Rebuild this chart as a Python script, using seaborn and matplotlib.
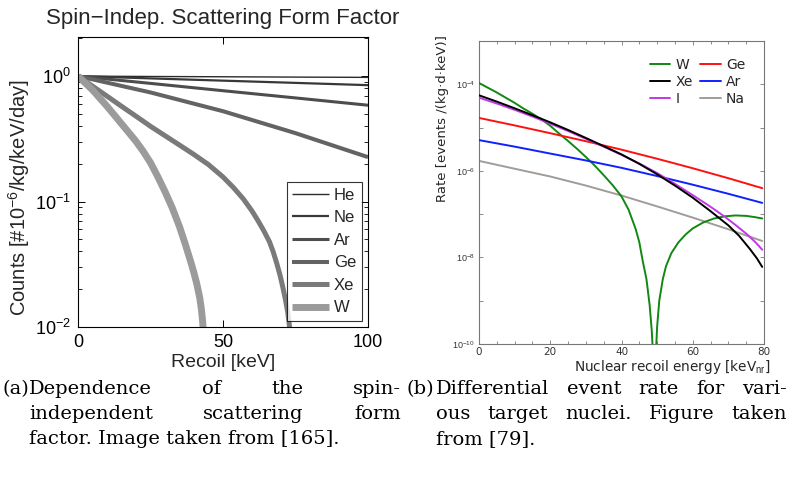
import numpy as np
import pandas as pd
import matplotlib
matplotlib.use("Agg")
import matplotlib.pyplot as plt
import seaborn as sns
from matplotlib.ticker import FuncFormatter, MultipleLocator, NullLocator, FixedLocator

# ---------------- data: panel (a) form factors ----------------
ff_targets = ["He", "Ne", "Ar", "Ge", "Xe", "W"]
light_x = [0, 25, 50, 75, 100]
he_y = [1.0, 0.993, 0.988, 0.982, 0.977]
ne_y = [1.0, 0.959, 0.920, 0.883, 0.847]
ar_y = [1.0, 0.875, 0.765, 0.670, 0.586]
ge_y = [1.0, 0.741, 0.525, 0.351, 0.226]
xe_x = [0, 5, 10, 15, 20, 25, 30, 35, 40, 45, 50, 53.5, 57, 60, 62, 64, 66, 67.3,
        68.5, 69.7, 70.7, 71.6, 72.3, 72.8, 73.2, 73.6]
xe_y = [1.0, 0.832, 0.692, 0.575, 0.479, 0.398, 0.335, 0.282, 0.237, 0.197,
        0.157, 0.130, 0.105, 0.0841, 0.0708, 0.0589, 0.0479, 0.0398, 0.0324,
        0.0257, 0.0204, 0.0162, 0.0132, 0.0107, 0.0087, 0.0063]
w_x = [0, 2.5, 5, 7.5, 10, 12.5, 15, 17.5, 20, 22.5, 25, 27.5, 30, 32.5, 35, 37,
       39, 40, 41, 42, 42.5, 43, 43.4]
w_y = [1.0, 0.881, 0.776, 0.668, 0.575, 0.490, 0.417, 0.355, 0.302, 0.251, 0.204,
       0.158, 0.120, 0.0891, 0.0631, 0.0457, 0.0324, 0.0269, 0.0219, 0.0170,
       0.0141, 0.0110, 0.0076]

# ---------------- data: panel (b) differential rates ----------------
rate_x = [0, 10, 20, 30, 40, 50, 60, 70, 79.5]
ge_rate = [1.671e-5, 1.122e-5, 7.41e-6, 4.84e-6, 3.09e-6, 1.905e-6, 1.148e-6, 6.76e-7, 3.98e-7]
ar_rate = [5.13e-6, 3.63e-6, 2.51e-6, 1.74e-6, 1.175e-6, 7.59e-7, 4.79e-7, 2.95e-7, 1.82e-7]
na_rate = [1.70e-6, 1.12e-6, 7.41e-7, 4.57e-7, 2.69e-7, 1.51e-7, 8.32e-8, 4.47e-8, 2.40e-8]
xe_rx = [0, 5, 10, 15, 20, 25, 30, 35, 40, 45, 50, 55, 60, 65, 70, 73, 76, 78, 79.5]
xe_rate = [5.57e-5, 3.98e-5, 2.79e-5, 1.93e-5, 1.32e-5, 8.81e-6, 5.75e-6, 3.72e-6,
           2.40e-6, 1.45e-6, 8.32e-7, 4.57e-7, 2.40e-7, 1.17e-7, 5.50e-8, 3.16e-8,
           1.58e-8, 9.55e-9, 6.03e-9]
i_rx = [0, 5, 10, 15, 20, 25, 30, 35, 40, 45, 50, 55, 60, 65, 69, 72, 75, 77.5, 79.5]
i_rate = [4.90e-5, 3.59e-5, 2.57e-5, 1.80e-5, 1.23e-5, 8.32e-6, 5.50e-6, 3.63e-6,
          2.34e-6, 1.48e-6, 8.91e-7, 5.01e-7, 2.75e-7, 1.48e-7, 8.71e-8, 5.62e-8,
          3.55e-8, 2.29e-8, 1.51e-8]
w_rx = [0, 2.5, 5, 7.5, 10, 12.5, 15, 17.5, 20, 22.5, 25, 27.5, 30, 32.5, 35, 37.5,
        40, 42, 44, 45, 46, 47, 47.9, 48.5, 49.0, 49.25, 49.5, 50.0, 50.6, 51.6,
        52.5, 54, 56, 58, 60, 63, 66, 69, 72, 75, 77.5, 79.5]
w_rate = [1.07e-4, 8.32e-5, 6.46e-5, 4.90e-5, 3.72e-5, 2.75e-5, 2.09e-5, 1.55e-5,
          1.10e-5, 7.24e-6, 4.90e-6, 3.24e-6, 2.09e-6, 1.32e-6, 7.94e-7, 4.68e-7,
          2.57e-7, 1.26e-7, 4.47e-8, 2.24e-8, 7.94e-9, 3.16e-9, 7.94e-10, 2.00e-10,
          3.16e-11, 1e-12, 3.16e-11, 2.51e-10, 1.0e-9, 3.16e-9, 6.31e-9, 1.26e-8,
          2.24e-8, 3.39e-8, 4.68e-8, 6.46e-8, 7.94e-8, 8.91e-8, 9.33e-8, 9.12e-8,
          8.51e-8, 7.94e-8]

# ---------------- captions ----------------
cap_a = [["Dependence", "of", "the", "spin-"],
         ["independent", "scattering", "form"],
         ["factor. Image taken from [165]."]]
cap_b = [["Differential", "event", "rate", "for", "vari-"],
         ["ous", "target", "nuclei.", "Figure", "taken"],
         ["from [79]."]]

# ---------------- figure ----------------
sns.set_theme(style="ticks")
plt.rcParams["font.family"] = ["Liberation Sans", "DejaVu Sans"]
plt.rcParams["mathtext.fontset"] = "custom"
plt.rcParams["mathtext.rm"] = "Liberation Sans"
plt.rcParams["mathtext.it"] = "Liberation Sans:italic"

W_PX, H_PX = 794.0, 479.0
fig = plt.figure(figsize=(7.94, 4.79), dpi=100)
axL = fig.add_axes([78 / W_PX, 1 - 327 / H_PX, 290 / W_PX, 290 / H_PX])
axR = fig.add_axes([479 / W_PX, 1 - 344 / H_PX, 285 / W_PX, 303 / H_PX])

# ----- panel (a)
ff_series = {
    "He": (light_x, he_y, "#2b2b2b", 1.0),
    "Ne": (light_x, ne_y, "#383838", 1.6),
    "Ar": (light_x, ar_y, "#4d4d4d", 2.2),
    "Ge": (light_x, ge_y, "#636363", 2.9),
    "Xe": (xe_x, xe_y, "#7a7a7a", 3.6),
    "W": (w_x, w_y, "#9b9b9b", 5.0),
}
for name in ff_targets:
    xs, ys, col, lw = ff_series[name]
    sns.lineplot(x=xs, y=ys, ax=axL, color=col, linewidth=lw, label=name,
                 estimator=None, solid_capstyle="butt")
axL.set_yscale("log")
axL.set_xlim(0, 100)
axL.set_ylim(0.01, 2.05)
axL.set_xticks([0, 50, 100])
axL.tick_params(which="both", direction="in", top=True, right=True,
                labelsize=13, color="black", labelcolor="black", pad=5)
axL.tick_params(which="major", length=5, width=0.7)
axL.tick_params(which="minor", length=3, width=0.6)
for s in axL.spines.values():
    s.set_color("black"); s.set_linewidth(0.8)
axL.set_title("Spin\u2212Indep. Scattering Form Factor", fontsize=16, pad=9)
axL.set_xlabel("Recoil [keV]", fontsize=14, labelpad=2)
axL.set_ylabel("Counts [#10$^{-6}$/kg/keV/day]", fontsize=14.5)
axL.yaxis.set_label_coords(-0.158, 0.445)
legL = axL.legend(loc="lower right", frameon=True, fancybox=False, fontsize=12,
                  handlelength=2.2, handletextpad=0.3, labelspacing=0.45,
                  borderaxespad=0.35, borderpad=0.35)
legL.get_frame().set_edgecolor("black")
legL.get_frame().set_linewidth(0.8)

# ----- panel (b)
rate_series = [
    ("W", w_rx, w_rate, "#118811", 3),
    ("Xe", xe_rx, xe_rate, "#000000", 5),
    ("I", i_rx, i_rate, "#c238e6", 4),
    ("Ge", rate_x, ge_rate, "#ff1010", 3),
    ("Ar", rate_x, ar_rate, "#1020ff", 3),
    ("Na", rate_x, na_rate, "#a19c98", 2),
]
for name, xs, ys, col, z in rate_series:
    sns.lineplot(x=xs, y=ys, ax=axR, color=col, linewidth=1.4, label=name,
                 estimator=None, zorder=z)
axR.set_yscale("log")
axR.set_xlim(0, 80)
axR.set_ylim(1e-10, 1e-3)
axR.yaxis.set_major_locator(FixedLocator([10.0 ** e for e in range(-10, -2)]))
axR.yaxis.set_minor_locator(NullLocator())
def _fmt(v, p):
    e = int(round(np.log10(v)))
    return "$10^{%d}$" % e if e % 2 == 0 and e < -3 else ""
axR.yaxis.set_major_formatter(FuncFormatter(_fmt))
axR.xaxis.set_major_locator(MultipleLocator(20))
axR.xaxis.set_minor_locator(MultipleLocator(5))
axR.tick_params(which="both", direction="in", top=True, right=True,
                color="#777777", labelcolor="#333333")
axR.tick_params(which="major", length=3, width=0.6)
axR.tick_params(which="minor", length=2, width=0.6)
axR.tick_params(axis="y", labelsize=6.5, pad=3)
axR.tick_params(axis="x", labelsize=7.5, pad=2.5)
for lab in axR.get_xticklabels() + axR.get_yticklabels():
    lab.set_fontfamily("DejaVu Sans")
for s in axR.spines.values():
    s.set_color("#777777"); s.set_linewidth(0.8)
axR.set_ylabel("Rate [events /(kg\u00b7d\u00b7keV)]", fontsize=9.5,
               fontfamily="DejaVu Sans", loc="top")
axR.yaxis.set_label_coords(-0.105, 1.02)
axR.set_xlabel("Nuclear recoil energy [keV$_{\\rm nr}$]", fontsize=9.8,
               fontfamily="DejaVu Sans", loc="right")
axR.xaxis.set_label_coords(1.022, -0.045)
h, l = axR.get_legend_handles_labels()
legR = axR.legend(h, l, ncol=2, loc="upper left", bbox_to_anchor=(0.555, 0.985),
                  frameon=False, handlelength=1.45, handletextpad=0.4,
                  columnspacing=0.55, labelspacing=0.2,
                  prop={"family": "DejaVu Sans", "size": 10})

# ----- captions (justified like the source document)
cap_kw = dict(fontsize=14, fontfamily="DejaVu Serif", color="black", va="center")
fig.canvas.draw()
renderer = fig.canvas.get_renderer()

def put_line(words, x0, x1, y, justify=True):
    texts = [fig.text(x0 / W_PX, 1 - y / H_PX, w, ha="left", **cap_kw) for w in words]
    if not justify or len(words) == 1:
        return
    widths = [t.get_window_extent(renderer).width for t in texts]
    gap = (x1 - x0 - sum(widths)) / (len(words) - 1)
    x = x0
    for t, w in zip(texts, widths):
        t.set_x(x / W_PX)
        x += w + gap

line_y = [389, 414, 439]
fig.text(3 / W_PX, 1 - line_y[0] / H_PX, "(a)", ha="left", **cap_kw)
fig.text(406 / W_PX, 1 - line_y[0] / H_PX, "(b)", ha="left", **cap_kw)
for i, words in enumerate(cap_a):
    put_line(words, 29, 401, line_y[i], justify=(i < 2))
for i, words in enumerate(cap_b):
    put_line(words, 436, 787, line_y[i], justify=(i < 2))

fig.savefig("out.png", dpi=100)
